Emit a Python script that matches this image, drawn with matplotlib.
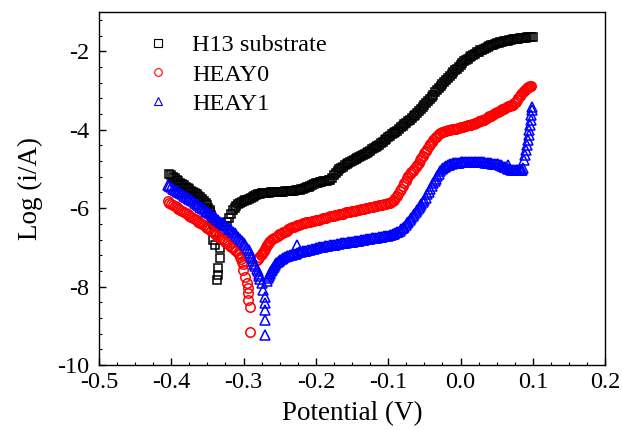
import matplotlib
matplotlib.use("Agg")
import matplotlib.pyplot as plt
from matplotlib.ticker import MultipleLocator

plt.rcParams["font.family"] = ["Liberation Serif", "DejaVu Serif"]
plt.rcParams["axes.unicode_minus"] = False

# potentiodynamic polarisation scans: potential (V) and log current
h13_v = [-0.4025, -0.4000, -0.3975, -0.3950, -0.3925, -0.3900, -0.3875, -0.3850, -0.3825, -0.3800,
         -0.3775, -0.3750, -0.3725, -0.3700, -0.3675, -0.3650, -0.3625, -0.3600, -0.3575, -0.3550,
         -0.3525, -0.3500, -0.3485, -0.3470, -0.3460, -0.3450, -0.3440, -0.3430, -0.3420, -0.3410,
         -0.3410, -0.3420, -0.3400, -0.3330, -0.3330, -0.3350, -0.3350, -0.3370, -0.3270, -0.3250,
         -0.3225,
         -0.3200, -0.3175, -0.3150, -0.3125, -0.3100, -0.3075, -0.3050, -0.3025, -0.3000, -0.2975,
         -0.2950, -0.2925, -0.2900, -0.2875, -0.2850, -0.2825, -0.2800, -0.2775, -0.2750, -0.2725,
         -0.2700, -0.2675, -0.2650, -0.2625, -0.2600, -0.2575, -0.2550, -0.2525, -0.2500, -0.2475,
         -0.2450, -0.2425, -0.2400, -0.2375, -0.2350, -0.2325, -0.2300, -0.2275, -0.2250, -0.2225,
         -0.2200, -0.2175, -0.2150, -0.2125, -0.2100, -0.2075, -0.2050, -0.2025, -0.2000, -0.1975,
         -0.1950, -0.1925, -0.1900, -0.1875, -0.1850, -0.1825, -0.1800, -0.1775, -0.1750, -0.1725,
         -0.1700, -0.1675, -0.1650, -0.1625, -0.1600, -0.1575, -0.1550, -0.1525, -0.1500, -0.1475,
         -0.1450, -0.1425, -0.1400, -0.1375, -0.1350, -0.1325, -0.1300, -0.1275, -0.1250, -0.1225,
         -0.1200, -0.1175, -0.1150, -0.1125, -0.1100, -0.1075, -0.1050, -0.1025, -0.1000, -0.0975,
         -0.0950, -0.0925, -0.0900, -0.0875, -0.0850, -0.0825, -0.0800, -0.0775, -0.0750, -0.0725,
         -0.0700, -0.0675, -0.0650, -0.0625, -0.0600, -0.0575, -0.0550, -0.0525, -0.0500, -0.0475,
         -0.0450, -0.0425, -0.0400, -0.0375, -0.0350, -0.0325, -0.0300, -0.0275, -0.0250, -0.0225,
         -0.0200, -0.0175, -0.0150, -0.0125, -0.0100, -0.0075, -0.0050, -0.0025, 0.0000, 0.0025,
         0.0050, 0.0075, 0.0100, 0.0125, 0.0150, 0.0175, 0.0200, 0.0225, 0.0250, 0.0275,
         0.0300, 0.0325, 0.0350, 0.0375, 0.0400, 0.0425, 0.0450, 0.0475, 0.0500, 0.0525,
         0.0550, 0.0575, 0.0600, 0.0625, 0.0650, 0.0675, 0.0700, 0.0725, 0.0750, 0.0775,
         0.0800, 0.0825, 0.0850, 0.0875, 0.0900, 0.0925, 0.0950, 0.0975, 0.1000]
h13_logi = [-5.13, -5.16, -5.20, -5.24, -5.27, -5.31, -5.35, -5.39, -5.42, -5.45,
            -5.49, -5.52, -5.55, -5.58, -5.62, -5.65, -5.68, -5.72, -5.76, -5.81,
            -5.87, -5.93, -5.99, -6.05, -6.11, -6.18, -6.25, -6.32, -6.39, -6.45,
            -6.60, -6.81, -6.93, -7.01, -7.27, -7.52, -7.70, -7.83, -6.55, -6.45,
            -6.35,
            -6.25, -6.14, -6.04, -5.99, -5.94, -5.90, -5.87, -5.84, -5.82, -5.80,
            -5.78, -5.76, -5.74, -5.71, -5.69, -5.66, -5.64, -5.63, -5.62, -5.61,
            -5.61, -5.61, -5.61, -5.60, -5.60, -5.60, -5.60, -5.59, -5.59, -5.58,
            -5.58, -5.57, -5.57, -5.56, -5.56, -5.55, -5.55, -5.54, -5.54, -5.53,
            -5.52, -5.50, -5.49, -5.47, -5.45, -5.43, -5.41, -5.39, -5.37, -5.35,
            -5.34, -5.33, -5.32, -5.31, -5.30, -5.29, -5.28, -5.22, -5.15, -5.10,
            -5.06, -5.01, -4.97, -4.94, -4.91, -4.88, -4.85, -4.83, -4.80, -4.77,
            -4.74, -4.72, -4.69, -4.67, -4.64, -4.62, -4.59, -4.56, -4.53, -4.50,
            -4.47, -4.44, -4.41, -4.38, -4.35, -4.31, -4.27, -4.23, -4.19, -4.16,
            -4.12, -4.09, -4.05, -4.02, -3.98, -3.94, -3.90, -3.86, -3.82, -3.78,
            -3.74, -3.70, -3.66, -3.62, -3.57, -3.53, -3.48, -3.43, -3.37, -3.32,
            -3.26, -3.21, -3.16, -3.11, -3.05, -3.00, -2.94, -2.89, -2.84, -2.79,
            -2.74, -2.69, -2.64, -2.59, -2.54, -2.49, -2.44, -2.39, -2.34, -2.30,
            -2.26, -2.22, -2.19, -2.15, -2.12, -2.09, -2.06, -2.03, -2.01, -1.98,
            -1.96, -1.93, -1.91, -1.89, -1.87, -1.85, -1.83, -1.81, -1.80, -1.78,
            -1.77, -1.76, -1.75, -1.74, -1.73, -1.72, -1.71, -1.70, -1.69, -1.685,
            -1.68, -1.67, -1.66, -1.655, -1.65, -1.645, -1.64, -1.635, -1.63]

heay0_v = [-0.4050, -0.4025, -0.4000, -0.3975, -0.3950, -0.3925, -0.3900, -0.3875, -0.3850, -0.3825,
           -0.3800, -0.3775, -0.3750, -0.3725, -0.3700, -0.3675, -0.3650, -0.3625, -0.3600, -0.3575,
           -0.3550, -0.3525, -0.3500, -0.3475, -0.3450, -0.3425, -0.3400, -0.3375, -0.3350, -0.3325,
           -0.3300, -0.3275, -0.3250, -0.3225, -0.3200, -0.3175, -0.3150, -0.3125, -0.3100, -0.3080,
           -0.3060, -0.3045, -0.3030, -0.3020, -0.3010,
           -0.3010, -0.2980, -0.2950, -0.2940, -0.2940, -0.2940, -0.2910, -0.2910,
           -0.2810, -0.2795, -0.2780, -0.2765, -0.2750, -0.2735, -0.2720, -0.2705, -0.2690, -0.2675,
           -0.2660, -0.2645, -0.2630,
           -0.2605, -0.2580, -0.2555, -0.2530, -0.2505, -0.2480, -0.2455, -0.2430, -0.2405, -0.2380,
           -0.2355, -0.2330, -0.2305, -0.2280, -0.2255, -0.2230, -0.2205, -0.2180, -0.2155, -0.2130,
           -0.2105, -0.2080, -0.2055, -0.2030, -0.2005, -0.1980, -0.1955, -0.1930, -0.1905, -0.1880,
           -0.1855, -0.1830, -0.1805, -0.1780, -0.1755, -0.1730, -0.1705, -0.1680, -0.1655, -0.1630,
           -0.1605, -0.1580, -0.1555, -0.1530, -0.1505, -0.1480, -0.1455, -0.1430, -0.1405, -0.1380,
           -0.1355, -0.1330, -0.1305, -0.1280, -0.1255, -0.1230, -0.1205, -0.1180, -0.1155, -0.1130,
           -0.1105, -0.1080, -0.1055, -0.1030, -0.1005,
           -0.0980, -0.0960, -0.0940, -0.0920, -0.0900, -0.0880, -0.0860, -0.0840, -0.0820, -0.0800,
           -0.0780, -0.0760, -0.0740, -0.0720, -0.0700, -0.0680, -0.0660, -0.0640, -0.0620, -0.0600,
           -0.0580, -0.0560, -0.0540, -0.0520, -0.0500, -0.0480, -0.0460, -0.0440, -0.0420, -0.0400,
           -0.0380, -0.0360, -0.0340, -0.0320, -0.0300, -0.0280, -0.0260, -0.0240, -0.0220, -0.0200,
           -0.0180, -0.0160, -0.0140, -0.0120, -0.0100, -0.0080, -0.0060, -0.0040, -0.0020, 0.0000,
           0.0020, 0.0040, 0.0060, 0.0080, 0.0100, 0.0120, 0.0140, 0.0160, 0.0180, 0.0200,
           0.0220, 0.0240, 0.0260, 0.0280, 0.0300, 0.0320, 0.0340, 0.0360, 0.0380, 0.0400,
           0.0420, 0.0440, 0.0460, 0.0480, 0.0500, 0.0520, 0.0540, 0.0560, 0.0580, 0.0600,
           0.0620, 0.0640, 0.0660, 0.0680, 0.0700, 0.0720, 0.0740, 0.0760, 0.0780, 0.0800,
           0.0820, 0.0840, 0.0860,
           0.0875, 0.0890, 0.0905, 0.0920, 0.0935, 0.0950, 0.0965, 0.0980]
heay0_logi = [-5.82, -5.86, -5.89, -5.92, -5.95, -5.98, -6.01, -6.04, -6.07, -6.10,
              -6.13, -6.16, -6.19, -6.22, -6.25, -6.28, -6.31, -6.34, -6.37, -6.40,
              -6.44, -6.47, -6.51, -6.54, -6.58, -6.61, -6.65, -6.68, -6.72, -6.75,
              -6.79, -6.82, -6.86, -6.90, -6.94, -6.98, -7.02, -7.06, -7.10, -7.14,
              -7.18, -7.24, -7.30, -7.36, -7.42,
              -7.57, -7.75, -7.90, -8.03, -8.16, -8.34, -8.52, -9.15,
              -7.32, -7.29, -7.25, -7.20, -7.16, -7.12, -7.08, -7.04, -7.00, -6.95,
              -6.91, -6.87, -6.83,
              -6.79, -6.76, -6.73, -6.70, -6.67, -6.65, -6.62, -6.60, -6.57, -6.54,
              -6.51, -6.49, -6.47, -6.45, -6.43, -6.42, -6.40, -6.39, -6.37, -6.36,
              -6.35, -6.34, -6.33, -6.32, -6.31, -6.30, -6.29, -6.28, -6.26, -6.25,
              -6.24, -6.23, -6.21, -6.20, -6.19, -6.18, -6.17, -6.16, -6.15, -6.14,
              -6.12, -6.11, -6.10, -6.09, -6.08, -6.07, -6.06, -6.05, -6.04, -6.03,
              -6.02, -6.01, -6.00, -5.99, -5.98, -5.97, -5.96, -5.95, -5.94, -5.93,
              -5.92, -5.91, -5.90, -5.89, -5.88,
              -5.86, -5.84, -5.82, -5.79, -5.75, -5.70, -5.64, -5.57, -5.50, -5.43,
              -5.36, -5.30, -5.24, -5.19, -5.14, -5.09, -5.04, -4.99, -4.94, -4.89,
              -4.84, -4.78, -4.72, -4.66, -4.60, -4.54, -4.48, -4.42, -4.36, -4.31,
              -4.26, -4.22, -4.18, -4.15, -4.12, -4.09, -4.07, -4.05, -4.03, -4.02,
              -4.01, -4.005, -4.00, -3.99, -3.98, -3.975, -3.97, -3.96, -3.95, -3.94,
              -3.93, -3.92, -3.91, -3.90, -3.89, -3.88, -3.87, -3.86, -3.85, -3.835,
              -3.82, -3.805, -3.79, -3.775, -3.76, -3.74, -3.72, -3.70, -3.68, -3.66,
              -3.64, -3.62, -3.60, -3.58, -3.56, -3.54, -3.52, -3.50, -3.48, -3.46,
              -3.44, -3.42, -3.40, -3.39, -3.38, -3.36, -3.33, -3.29, -3.25, -3.20,
              -3.14, -3.09, -3.04,
              -3.01, -2.98, -2.96, -2.94, -2.92, -2.91, -2.895, -2.88]

heay1_v = [-0.4050, -0.4025, -0.4000, -0.3975, -0.3950, -0.3925, -0.3900, -0.3875, -0.3850, -0.3825,
           -0.3800, -0.3775, -0.3750, -0.3725, -0.3700, -0.3675, -0.3650, -0.3625, -0.3600, -0.3575,
           -0.3550, -0.3525, -0.3500, -0.3475, -0.3450, -0.3425, -0.3400, -0.3375, -0.3350, -0.3325,
           -0.3300, -0.3275, -0.3250, -0.3225, -0.3200, -0.3175, -0.3150, -0.3125, -0.3100, -0.3075,
           -0.3050, -0.3025, -0.3000, -0.2975, -0.2950, -0.2930, -0.2910, -0.2895, -0.2880, -0.2865,
           -0.2850, -0.2835, -0.2820, -0.2805, -0.2790, -0.2780, -0.2770,
           -0.2750, -0.2730, -0.2710, -0.2700, -0.2700, -0.2700, -0.2700,
           -0.2670, -0.2660, -0.2650, -0.2640, -0.2630, -0.2620, -0.2610, -0.2595, -0.2580, -0.2565,
           -0.2550, -0.2530, -0.2510, -0.2490, -0.2470, -0.2450, -0.2430,
           -0.2405, -0.2380, -0.2355, -0.2330, -0.2305, -0.2280, -0.2255, -0.2230, -0.2205, -0.2180,
           -0.2155, -0.2130, -0.2105, -0.2080, -0.2055, -0.2030, -0.2005, -0.1980, -0.1955, -0.1930,
           -0.1905, -0.1880, -0.1855, -0.1830, -0.1805, -0.1780, -0.1755, -0.1730, -0.1705, -0.1680,
           -0.1655, -0.1630, -0.1605, -0.1580, -0.1555, -0.1530, -0.1505, -0.1480, -0.1455, -0.1430,
           -0.1405, -0.1380, -0.1355, -0.1330, -0.1305, -0.1280, -0.1255, -0.1230, -0.1205, -0.1180,
           -0.1155, -0.1130, -0.1105, -0.1080, -0.1055, -0.1030, -0.1005,
           -0.0980, -0.0960, -0.0940, -0.0920, -0.0900, -0.0880, -0.0860, -0.0840, -0.0820, -0.0800,
           -0.0780, -0.0760, -0.0740, -0.0720, -0.0700, -0.0680, -0.0660, -0.0640, -0.0620, -0.0600,
           -0.0580, -0.0560, -0.0540, -0.0520, -0.0500, -0.0480, -0.0460, -0.0440, -0.0420, -0.0400,
           -0.0380, -0.0360, -0.0340, -0.0320, -0.0300, -0.0280, -0.0260, -0.0240, -0.0220, -0.0200,
           -0.0180, -0.0160, -0.0140, -0.0120, -0.0100, -0.0080, -0.0060, -0.0040, -0.0020, 0.0000,
           0.0020, 0.0040, 0.0060, 0.0080, 0.0100, 0.0120, 0.0140, 0.0160, 0.0180, 0.0200,
           0.0220, 0.0240, 0.0260, 0.0280, 0.0300, 0.0320, 0.0340, 0.0360, 0.0380, 0.0400,
           0.0420, 0.0440, 0.0460, 0.0480, 0.0500, 0.0520, 0.0540, 0.0560, 0.0580, 0.0600,
           0.0620, 0.0640, 0.0660, 0.0680, 0.0700, 0.0720, 0.0740, 0.0760, 0.0780, 0.0800,
           0.0820, 0.0840, 0.0850,
           -0.2260, 0.0660,
           0.0860, 0.0880, 0.0890, 0.0910, 0.0920, 0.0930, 0.0940, 0.0950, 0.0960, 0.0970,
           0.0980, 0.0990, 0.0990]
heay1_logi = [-5.40, -5.44, -5.47, -5.50, -5.53, -5.56, -5.59, -5.62, -5.65, -5.68,
              -5.71, -5.74, -5.77, -5.80, -5.83, -5.86, -5.89, -5.92, -5.96, -5.99,
              -6.03, -6.06, -6.10, -6.13, -6.16, -6.20, -6.23, -6.27, -6.30, -6.34,
              -6.37, -6.41, -6.44, -6.48, -6.52, -6.56, -6.60, -6.64, -6.69, -6.74,
              -6.79, -6.84, -6.90, -6.95, -7.01, -7.07, -7.14, -7.21, -7.28, -7.35,
              -7.42, -7.48, -7.55, -7.61, -7.68, -7.74, -7.80,
              -7.90, -8.08, -8.26, -8.42, -8.59, -8.85, -9.23,
              -7.85, -7.79, -7.74, -7.69, -7.65, -7.61, -7.57, -7.53, -7.49, -7.45,
              -7.41, -7.37, -7.34, -7.31, -7.29, -7.27, -7.25,
              -7.23, -7.22, -7.20, -7.19, -7.17, -7.16, -7.14, -7.13, -7.11, -7.10,
              -7.09, -7.08, -7.07, -7.06, -7.04, -7.03, -7.02, -7.01, -7.00, -6.99,
              -6.98, -6.97, -6.965, -6.96, -6.95, -6.94, -6.935, -6.93, -6.92, -6.91,
              -6.90, -6.89, -6.885, -6.88, -6.87, -6.86, -6.855, -6.85, -6.84, -6.83,
              -6.825, -6.82, -6.81, -6.80, -6.795, -6.79, -6.78, -6.77, -6.765, -6.76,
              -6.75, -6.74, -6.735, -6.73, -6.72, -6.71, -6.70,
              -6.69, -6.68, -6.67, -6.655, -6.64, -6.62, -6.60, -6.57, -6.54, -6.51,
              -6.47, -6.43, -6.39, -6.35, -6.30, -6.25, -6.20, -6.15, -6.10, -6.05,
              -5.99, -5.95, -5.90, -5.85, -5.80, -5.73, -5.65, -5.58, -5.50, -5.43,
              -5.37, -5.31, -5.25, -5.18, -5.12, -5.06, -5.01, -4.97, -4.94, -4.92,
              -4.90, -4.89, -4.88, -4.87, -4.86, -4.855, -4.85, -4.845, -4.84, -4.835,
              -4.83, -4.83, -4.83, -4.825, -4.82, -4.82, -4.82, -4.82, -4.82, -4.82,
              -4.82, -4.82, -4.82, -4.825, -4.83, -4.835, -4.84, -4.845, -4.85, -4.855,
              -4.86, -4.865, -4.87, -4.875, -4.88, -4.885, -4.89, -4.90, -4.92, -4.94,
              -4.96, -4.98, -5.00, -5.01, -5.02, -5.025, -5.03, -5.03, -5.03, -5.03,
              -5.03, -5.025, -5.02,
              -6.93, -4.89,
              -4.97, -4.77, -4.64, -4.51, -4.38, -4.26, -4.13, -4.00, -3.87, -3.74,
              -3.62, -3.49, -3.41]

fig = plt.figure(figsize=(6.22, 4.30), dpi=100)
ax = fig.add_axes([0.159, 0.151, 0.814, 0.821])

ax.plot(h13_v, h13_logi, linestyle="none", marker="s", markersize=5.6,
        markerfacecolor="none", markeredgecolor="black", markeredgewidth=1.1,
        label="H13 substrate")
ax.plot(heay0_v, heay0_logi, linestyle="none", marker="o", markersize=6.8,
        markerfacecolor="none", markeredgecolor="red", markeredgewidth=1.1,
        label="HEAY0")
ax.plot(heay1_v, heay1_logi, linestyle="none", marker="^", markersize=6.8,
        markerfacecolor="none", markeredgecolor="blue", markeredgewidth=1.1,
        label="HEAY1")

ax.set_xlim(-0.5, 0.2)
ax.set_ylim(-10, -1)
ax.xaxis.set_minor_locator(MultipleLocator(0.025))
ax.yaxis.set_minor_locator(MultipleLocator(0.4))
ax.set_xticks([-0.5, -0.4, -0.3, -0.2, -0.1, 0.0, 0.1, 0.2])
ax.set_xticklabels(["-0.5", "-0.4", "-0.3", "-0.2", "-0.1", "0.0", "0.1", "0.2"])
ax.set_yticks([-2, -4, -6, -8, -10])
ax.set_yticklabels(["-2", "-4", "-6", "-8", "-10"])

ax.tick_params(which="both", direction="in", top=False, right=False, labelsize=17.5)
ax.tick_params(which="major", length=5, width=1)
ax.tick_params(which="minor", length=2.5, width=0.8)
ax.tick_params(axis="x", pad=5)
ax.tick_params(axis="y", pad=7)
for sp in ax.spines.values():
    sp.set_linewidth(1.0)

ax.set_xlabel("Potential (V)", fontsize=19.5, labelpad=6)
ax.set_ylabel("Log (i/A)", fontsize=19.5, labelpad=10)

leg = ax.legend(loc="upper left", bbox_to_anchor=(0.06, 0.985), frameon=False,
                fontsize=17.5, handlelength=1.0, handletextpad=0.9, labelspacing=0.3,
                borderpad=0.2, numpoints=1)
for h in leg.legend_handles:
    h.set_markeredgewidth(0.8)
    h.set_markersize(5.5)

fig.savefig("out.png", dpi=100)
